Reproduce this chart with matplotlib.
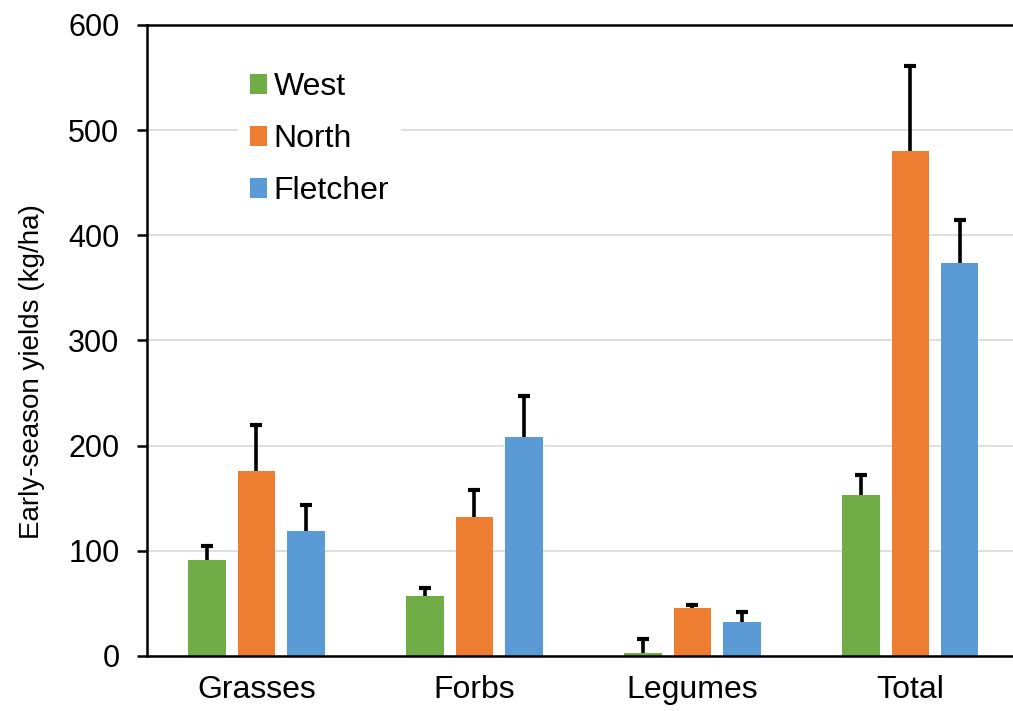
import matplotlib.pyplot as plt
import numpy as np

plt.rcParams["font.family"] = ["Liberation Sans", "DejaVu Sans"]

categories = ["Grasses", "Forbs", "Legumes", "Total"]
sites = ["West", "North", "Fletcher"]
colors = ["#70AD47", "#ED7D31", "#5B9BD5"]

west = [91, 57, 3, 153]
north = [176, 132, 46, 480]
fletcher = [119, 208, 32, 374]

west_err = [14, 8, 13, 19]
north_err = [44, 26, 2, 81]
fletcher_err = [25, 39, 10, 41]

values = [west, north, fletcher]
errors = [west_err, north_err, fletcher_err]

fig = plt.figure(figsize=(10.13, 7.11), dpi=100)
ax = fig.add_axes([0.1456, 0.0774, 0.8608, 0.8875])

x = np.arange(len(categories))
width = 0.174
step = 0.225

for i, (vals, errs, name, color) in enumerate(zip(values, errors, sites, colors)):
    pos = x + (i - 1) * step
    vals = np.array(vals)
    tops = vals + np.array(errs)
    ax.bar(pos, vals, width, color=color, label=name, zorder=2)
    # upper error bars only, Excel style
    ax.vlines(pos, vals, tops, color="black", linewidth=2.6, zorder=3)
    ax.plot(pos, tops, linestyle="none", marker="_", markersize=9,
            markeredgewidth=3, color="black", zorder=3)

ax.set_xlim(-0.5, 3.5)
ax.set_ylim(0, 600)
ax.set_yticks(np.arange(0, 601, 100))
ax.set_xticks(x)
ax.set_xticklabels(categories)
ax.set_ylabel("Early-season yields (kg/ha)", fontsize=20)
ax.yaxis.set_label_coords(-0.118, 0.45)

ax.grid(axis="y", color="#D9D9D9", linewidth=1.2, zorder=0)
ax.set_axisbelow(True)
ax.spines["right"].set_visible(False)
for side in ["left", "bottom", "top"]:
    ax.spines[side].set_linewidth(1.8)
    ax.spines[side].set_color("black")

ax.tick_params(axis="y", direction="out", length=7.2, width=1.8, labelsize=22, pad=13)
ax.tick_params(axis="x", length=0, labelsize=23, pad=14)

leg = ax.legend(
    loc="upper left", bbox_to_anchor=(0.086, 0.968),
    frameon=True, fontsize=23, handlelength=0.55, handleheight=0.55,
    handletextpad=0.2, labelspacing=0.69, borderpad=0.35,
)
leg.get_frame().set_facecolor("white")
leg.get_frame().set_edgecolor("white")
leg.get_frame().set_alpha(1.0)

fig.savefig("out.png", dpi=100)
